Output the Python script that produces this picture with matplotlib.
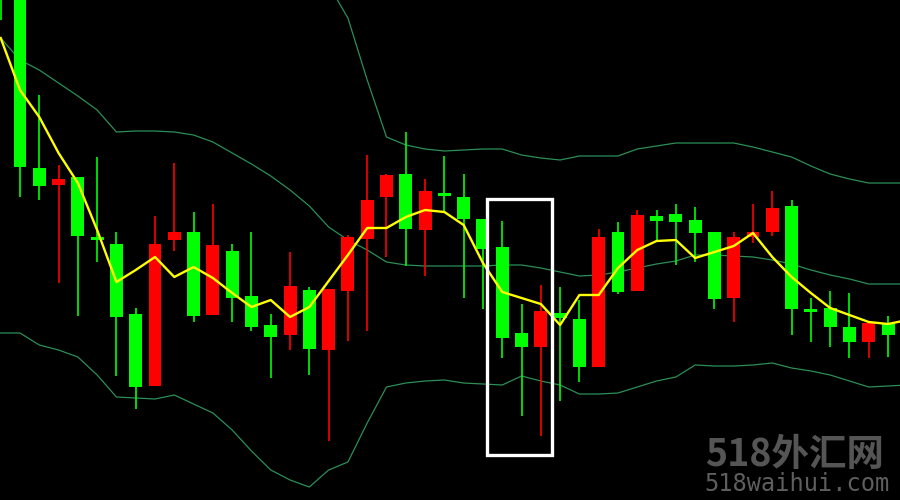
import matplotlib
matplotlib.use('Agg')
import matplotlib.pyplot as plt
from matplotlib.patches import Rectangle

# levels (0 = top edge, 500 = bottom edge)
colors = ['g', 'g', 'g', 'r', 'g', 'g', 'g', 'g', 'r', 'r',
          'g', 'r', 'g', 'g', 'g', 'r', 'g', 'r', 'r', 'r',
          'r', 'g', 'r', 'g', 'g', 'g', 'g', 'g', 'r', 'g',
          'g', 'r', 'g', 'r', 'g', 'g', 'g', 'g', 'r', 'r',
          'r', 'g', 'g', 'g', 'g', 'r', 'g']
body_top = [-60, -30, 168, 179, 177, 237, 244, 314, 244, 232,
            232, 245, 251, 296, 325, 286, 290, 289, 237, 200,
            175, 174, 191, 193, 197, 219, 247, 333, 311, 313,
            319, 237, 232, 215, 216, 214, 220, 232, 237, 232,
            208, 206, 309, 308, 327, 323, 323]
body_bot = [-5, 167, 186, 185, 236, 240, 317, 387, 386, 240,
            316, 315, 298, 327, 337, 335, 349, 350, 291, 239,
            197, 229, 230, 196, 219, 249, 338, 347, 347, 318,
            367, 367, 292, 291, 221, 222, 233, 299, 298, 237,
            232, 309, 312, 327, 342, 342, 335]
wick_top = [-80, -60, 95, 165, 177, 157, 232, 308, 216, 163,
            212, 204, 244, 232, 314, 252, 287, 289, 235, 155,
            174, 132, 179, 156, 174, 219, 221, 304, 285, 287,
            300, 229, 222, 210, 210, 204, 207, 232, 232, 204,
            191, 200, 298, 291, 293, 323, 316]
wick_bot = [20, 197, 200, 283, 316, 262, 376, 409, 386, 251,
            322, 315, 322, 331, 378, 350, 375, 441, 341, 331,
            257, 266, 276, 212, 298, 309, 358, 416, 436, 401,
            382, 367, 294, 291, 240, 265, 262, 309, 322, 243,
            236, 335, 342, 347, 358, 358, 357]

# moving average and bollinger bands (one value more: next bar is off screen)
ma = [38, 90, 117, 153, 183, 230, 282, 270, 257, 277,
      267, 278, 293, 307, 300, 317, 307, 281, 255, 228,
      228, 217, 210, 212, 225, 263, 292, 298, 304, 325,
      295, 295, 268, 250, 241, 240, 258, 252, 246, 233,
      257, 277, 293, 308, 315, 322, 324, 320]
bb_upper = [-257, -213, -205, -184, -165, -155, -133, -136, -137, -131,
            -134, -129, -124, -123, -118, -100, -75, -15, 18, 80,
            137, 145, 149, 151, 150, 149, 149, 155, 158, 160,
            156, 156, 156, 149, 146, 143, 143, 143, 143, 147,
            152, 157, 166, 174, 179, 183, 183, 183]
bb_mid = [38, 60, 70, 83, 96, 110, 132, 131, 131, 132,
          135, 142, 153, 164, 176, 190, 206, 227, 240, 250,
          262, 265, 266, 266, 266, 266, 265, 265, 268, 272,
          276, 275, 272, 268, 264, 261, 255, 255, 256, 257,
          260, 264, 270, 275, 279, 284, 284, 284]
bb_lower = [333, 333, 345, 350, 357, 375, 397, 398, 399, 395,
            404, 413, 430, 451, 470, 480, 487, 470, 462, 423,
            387, 383, 381, 380, 383, 384, 385, 376, 381, 385,
            394, 394, 393, 387, 381, 377, 365, 366, 366, 365,
            363, 368, 371, 375, 381, 387, 386, 385]

palette = {'g': '#00ff00', 'r': '#ff0000'}
band_color = '#2b8f56'

fig = plt.figure(figsize=(9, 5), dpi=100, facecolor='black')
ax = fig.add_axes([0, 0, 1, 1])
ax.set_facecolor('black')

n_ind = range(len(ma))
for band in (bb_upper, bb_mid, bb_lower):
    ax.plot(n_ind, band, color=band_color, lw=0.9, zorder=1)

xs = list(range(len(colors)))
cs = [palette[c] for c in colors]
ax.vlines(xs, wick_top, wick_bot, colors=cs, lw=1.2, zorder=2)
heights = [b - t for t, b in zip(body_top, body_bot)]
ax.bar(xs, heights, bottom=body_top, width=0.67, color=cs, linewidth=0, zorder=3)

ax.plot(n_ind, ma, color='#ffff00', lw=1.7, zorder=4)

# highlight box around bars 26-28
ax.add_patch(Rectangle((25.22, 199), 3.35, 256, fill=False, edgecolor='white',
                       lw=2.4, zorder=5))

ax.set_xlim(-0.036, 46.62)
ax.set_ylim(500, 0)
ax.axis('off')

fig.text(0.883, 0.052, '518外汇网', color='#555555', fontsize=27, fontweight='bold',
         style='italic', ha='center', va='bottom',
         family=['Noto Sans CJK SC', 'DejaVu Sans'])
fig.text(0.885, 0.008, '518waihui.com', color='#5e5e5e', fontsize=17,
         ha='center', va='bottom', family='DejaVu Sans Mono')

fig.savefig('out.png', dpi=100, facecolor='black')
